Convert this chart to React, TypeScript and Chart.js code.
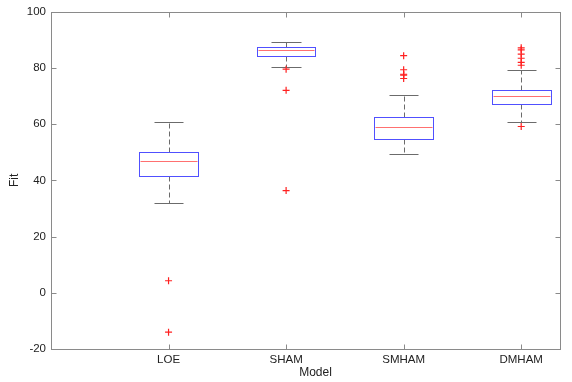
import { useEffect, useRef } from "react";
import { Chart, registerables } from "chart.js";

Chart.register(...registerables);

// Box-plot summary per model
const models = ["LOE", "SHAM", "SMHAM", "DMHAM"];
const lowerQuartile = [41.6, 84.4, 54.8, 67.1];
const medians = [47.1, 86.3, 59.2, 69.9];
const upperQuartile = [50.3, 87.4, 62.6, 72.3];
const whiskerLow = [32.0, 80.3, 49.3, 60.8];
const whiskerHigh = [60.7, 89.3, 70.4, 79.2];
const loeOutliers = [4.3, -14.0];
const shamOutliers = [79.6, 72.1, 36.4];
const smhamOutliers = [84.4, 79.4, 77.8, 77.5, 76.3];
const dmhamOutliers = [87.2, 86.5, 85.0, 83.5, 82.0, 81.0, 59.2];
const yTicks = [-20, 0, 20, 40, 60, 80, 100];

const outlierGroups = [loeOutliers, shamOutliers, smhamOutliers, dmhamOutliers];
const FONT = "'Liberation Sans', Arial, Helvetica, sans-serif";

const snap = (v: number) => Math.round(v) + 0.5;

const boxPlotPlugin = {
  id: "boxPlot",
  beforeDatasetsDraw(chart: any) {
    const { ctx, chartArea, scales } = chart;
    const xs = scales.x;
    const ys = scales.y;
    ctx.save();

    // frame and inward ticks
    ctx.strokeStyle = "#8a8a8a";
    ctx.lineWidth = 1;
    const L = snap(chartArea.left);
    const R = snap(chartArea.right);
    const T = snap(chartArea.top);
    const B = snap(chartArea.bottom);
    ctx.strokeRect(L, T, R - L, B - T);
    ctx.beginPath();
    yTicks.forEach((v) => {
      const y = snap(ys.getPixelForValue(v));
      ctx.moveTo(L, y);
      ctx.lineTo(L + 5, y);
      ctx.moveTo(R, y);
      ctx.lineTo(R - 5, y);
    });
    models.forEach((_, i) => {
      const x = snap(xs.getPixelForValue(i + 1));
      ctx.moveTo(x, B);
      ctx.lineTo(x, B - 5);
      ctx.moveTo(x, T);
      ctx.lineTo(x, T + 5);
    });
    ctx.stroke();

    models.forEach((_, i) => {
      const cx = snap(xs.getPixelForValue(i + 1));
      const bl = snap(xs.getPixelForValue(i + 1 - 0.25));
      const br = snap(xs.getPixelForValue(i + 1 + 0.25));
      const cl = snap(xs.getPixelForValue(i + 1 - 0.125));
      const cr = snap(xs.getPixelForValue(i + 1 + 0.125));
      const yq1 = snap(ys.getPixelForValue(lowerQuartile[i]));
      const yq3 = snap(ys.getPixelForValue(upperQuartile[i]));
      const ymed = snap(ys.getPixelForValue(medians[i]));
      const ylo = snap(ys.getPixelForValue(whiskerLow[i]));
      const yhi = snap(ys.getPixelForValue(whiskerHigh[i]));

      // dashed whiskers
      ctx.strokeStyle = "#6b6b6b";
      ctx.setLineDash([5, 3]);
      ctx.beginPath();
      ctx.moveTo(cx, yq3);
      ctx.lineTo(cx, yhi);
      ctx.moveTo(cx, yq1);
      ctx.lineTo(cx, ylo);
      ctx.stroke();
      ctx.setLineDash([]);

      // caps
      ctx.beginPath();
      ctx.moveTo(cl, yhi);
      ctx.lineTo(cr, yhi);
      ctx.moveTo(cl, ylo);
      ctx.lineTo(cr, ylo);
      ctx.stroke();

      // box
      ctx.strokeStyle = "#5050ff";
      ctx.strokeRect(bl, yq3, br - bl, yq1 - yq3);

      // median
      ctx.strokeStyle = "#ff7070";
      ctx.beginPath();
      ctx.moveTo(bl + 1, ymed);
      ctx.lineTo(br - 1, ymed);
      ctx.stroke();
    });

    ctx.restore();
  },
  afterDraw(chart: any) {
    const { ctx, chartArea } = chart;
    ctx.save();
    ctx.fillStyle = "#222";
    ctx.font = `12px ${FONT}`;
    ctx.textAlign = "center";
    ctx.textBaseline = "middle";
    ctx.fillText("Model", (chartArea.left + chartArea.right) / 2 + 10, 373);
    ctx.translate(15, (chartArea.top + chartArea.bottom) / 2);
    ctx.rotate(-Math.PI / 2);
    ctx.fillText("Fit", 0, 0);
    ctx.restore();
  },
};

export default function App() {
  const canvasRef = useRef<HTMLCanvasElement | null>(null);

  useEffect(() => {
    if (!canvasRef.current) return;
    const points = outlierGroups.flatMap((group, i) =>
      group.map((v) => ({ x: i + 1, y: v }))
    );
    const chart = new Chart(canvasRef.current, {
      type: "scatter",
      data: {
        datasets: [
          {
            label: "Outliers",
            data: points,
            pointStyle: "cross",
            radius: 3.5,
            borderColor: "#ff2020",
            backgroundColor: "#ff2020",
            borderWidth: 1.2,
          },
        ],
      },
      options: {
        animation: false,
        responsive: false,
        maintainAspectRatio: false,
        layout: { padding: { top: 10, right: 12, left: 0, bottom: 0 } },
        plugins: {
          legend: { display: false },
          tooltip: { enabled: false },
        },
        scales: {
          x: {
            type: "linear",
            min: 0,
            max: 4.33,
            grid: { display: false, drawTicks: false },
            border: { display: false },
            afterBuildTicks: (scale: any) => {
              scale.ticks = models.map((_, i) => ({ value: i + 1 }));
            },
            afterFit: (scale: any) => {
              scale.height = 33;
            },
            ticks: {
              autoSkip: false,
              maxRotation: 0,
              padding: 4,
              color: "#222",
              font: { family: FONT, size: 11.5 },
              callback: (v: any) => models[Number(v) - 1] ?? "",
            },
          },
          y: {
            min: -20,
            max: 100,
            grid: { display: false, drawTicks: false },
            border: { display: false },
            afterBuildTicks: (scale: any) => {
              scale.ticks = yTicks.map((v) => ({ value: v }));
            },
            afterFit: (scale: any) => {
              scale.width = 51;
            },
            ticks: {
              padding: 5,
              color: "#222",
              font: { family: FONT, size: 11.5 },
            },
          },
        },
      },
      plugins: [boxPlotPlugin],
    });
    return () => chart.destroy();
  }, []);

  return (
    <div
      style={{
        position: "fixed",
        left: 0,
        top: 0,
        width: 572,
        height: 382,
        background: "#fff",
      }}
    >
      <canvas ref={canvasRef} width={572} height={382} style={{ display: "block" }} />
    </div>
  );
}
